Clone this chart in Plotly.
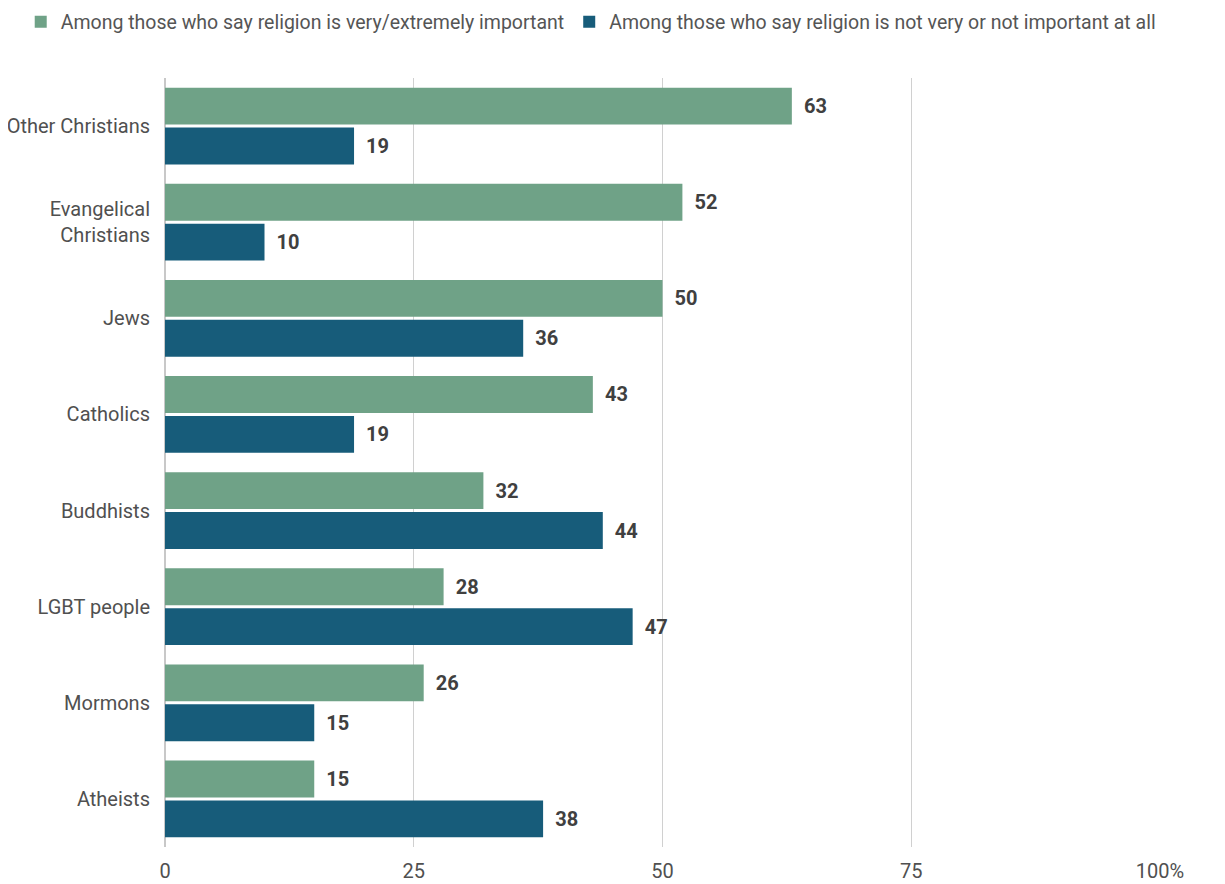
import plotly.graph_objects as go

categories = ["Other Christians", "Evangelical<br>Christians", "Jews", "Catholics",
              "Buddhists", "LGBT people", "Mormons", "Atheists"]
very_important = [63, 52, 50, 43, 32, 28, 26, 15]
not_important = [19, 10, 36, 19, 44, 47, 15, 38]
series_names = ["Among those who say religion is very/extremely important",
                "Among those who say religion is not very or not important at all"]
tick_vals = [0, 25, 50, 75, 100]
tick_text = ["0", "25", "50", "75", "100%"]

green = "#6fa287"
blue = "#175c7a"

fig = go.Figure()
for name, vals, col in [(series_names[0], very_important, green),
                        (series_names[1], not_important, blue)]:
    fig.add_trace(go.Bar(
        y=categories, x=vals, name=name, orientation="h",
        marker=dict(color=col, line=dict(width=0)),
        text=[" \u2009" + str(v) for v in vals], textposition="outside",
        textfont=dict(family="Roboto", size=20, color="#404040", weight="bold"),
        cliponaxis=False,
    ))

fig.update_layout(
    width=1217, height=876,
    barmode="group", bargap=0.17, bargroupgap=0.075,
    plot_bgcolor="white", paper_bgcolor="white",
    margin=dict(l=157, r=65, t=70, b=37, autoexpand=False),
    font=dict(family="Roboto", size=20, color="#505050"),
    legend=dict(orientation="h", x=-0.145, xanchor="left", y=1.0728, yanchor="middle",
                font=dict(size=19.5, color="#555555"),
                traceorder="normal", itemwidth=30, tracegroupgap=0),
    showlegend=True,
)
fig.update_yaxes(autorange="reversed", showgrid=False, ticks="", ticklabelstandoff=14,
                 automargin=False, tickfont=dict(size=20, color="#505050"))
fig.update_xaxes(range=[0, 100], tickvals=tick_vals, ticktext=tick_text,
                 showgrid=True, gridcolor="#d0d0d0", gridwidth=1, zeroline=True,
                 zerolinecolor="#c8c8c8", automargin=False, ticklabelstandoff=10,
                 tickfont=dict(size=20, color="#505050"))

fig.write_html("out.html")
